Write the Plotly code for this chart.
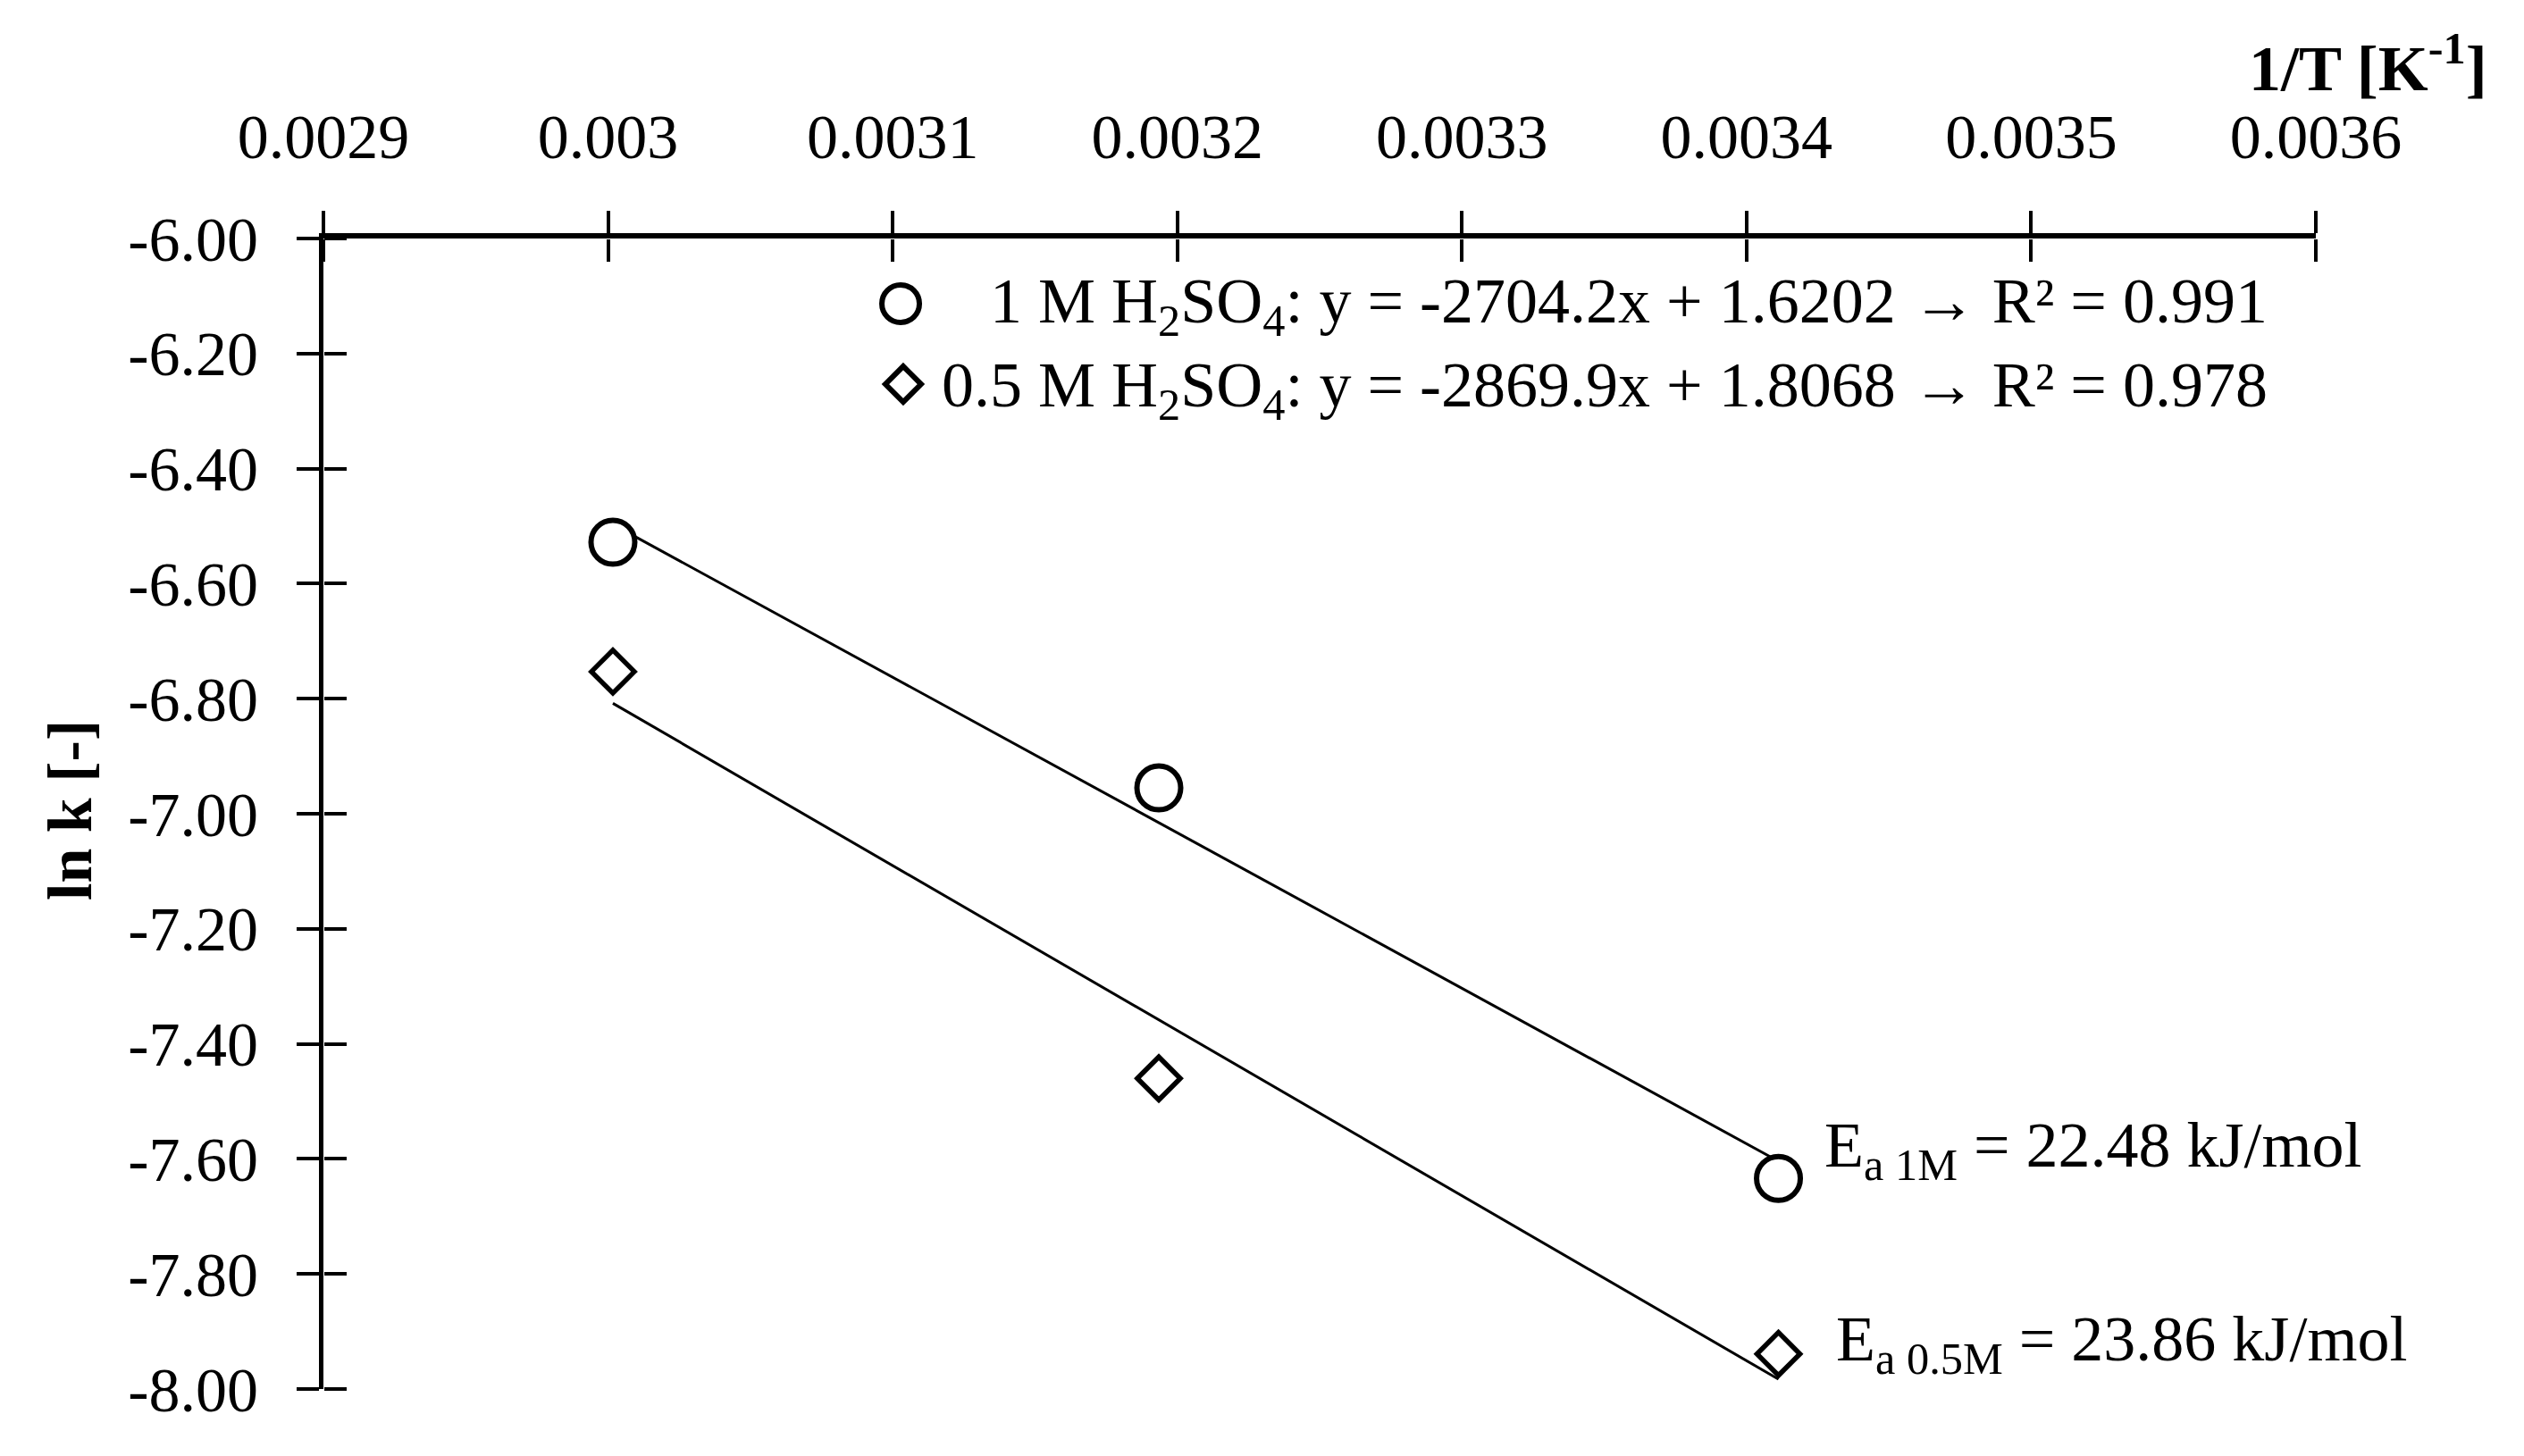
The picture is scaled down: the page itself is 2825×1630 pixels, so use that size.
import plotly.graph_objects as go

# 1/T values (K^-1) and ln k for both acid concentrations
inv_T = [0.0030017, 0.0031935, 0.0034112]
lnk_1M = [-6.528, -6.955, -7.634]
lnk_05M = [-6.753, -7.460, -7.939]

# linear fit lines, read at the first and last 1/T
trend_x = [0.0030017, 0.0034112]
trend_1M = [-6.497, -7.604]
trend_05M = [-6.808, -7.983]

x_ticks = [0.0029, 0.0030, 0.0031, 0.0032, 0.0033, 0.0034, 0.0035, 0.0036]
x_tick_labels = ['0.0029', '0.003', '0.0031', '0.0032', '0.0033', '0.0034', '0.0035', '0.0036']
y_ticks = [-6.0, -6.2, -6.4, -6.6, -6.8, -7.0, -7.2, -7.4, -7.6, -7.8, -8.0]
y_tick_labels = ['-6.00', '-6.20', '-6.40', '-6.60', '-6.80', '-7.00', '-7.20', '-7.40', '-7.60', '-7.80', '-8.00']

leg_1M = '1 M H<sub>2</sub>SO<sub>4</sub>: y = -2704.2x + 1.6202 \u2192 R\u00b2 = 0.991'
leg_05M = '0.5 M H<sub>2</sub>SO<sub>4</sub>: y = -2869.9x + 1.8068 \u2192 R\u00b2 = 0.978'
ea_1M = 'E<sub>a 1M</sub> = 22.48 kJ/mol'
ea_05M = 'E<sub>a 0.5M</sub> = 23.86 kJ/mol'

FONT = 'Liberation Serif'
FS = 70

fig = go.Figure()

fig.add_trace(go.Scatter(x=trend_x, y=trend_1M, mode='lines',
                         line=dict(color='black', width=3), showlegend=False))
fig.add_trace(go.Scatter(x=trend_x, y=trend_05M, mode='lines',
                         line=dict(color='black', width=3), showlegend=False))

# markers on the overlay axes so they sit above the fit lines
fig.add_trace(go.Scatter(x=inv_T, y=lnk_1M, mode='markers', xaxis='x2', yaxis='y2',
                         marker=dict(symbol='circle', size=49, color='white',
                                     line=dict(color='black', width=6)),
                         showlegend=False, cliponaxis=False))
fig.add_trace(go.Scatter(x=inv_T, y=lnk_05M, mode='markers', xaxis='x2', yaxis='y2',
                         marker=dict(symbol='diamond', size=37, color='white',
                                     line=dict(color='black', width=5.5)),
                         showlegend=False, cliponaxis=False))

ax_common = dict(showgrid=False, zeroline=False, color='black')

# page body adds an 8px margin, so the figure is 8px smaller than the window
# the second pair of axes sits on the same lines but faces the other way,
# so the ticks cross the axis lines like in the original
fig.update_layout(
    width=2817, height=1622,
    margin=dict(l=354, r=233, t=259, b=75),
    paper_bgcolor='white', plot_bgcolor='white',
    font=dict(family=FONT, size=FS, color='black'),
    showlegend=False,
    xaxis=dict(range=[0.0029, 0.0036], side='top', tickvals=x_ticks, ticktext=x_tick_labels,
               ticks='outside', ticklen=25, tickwidth=4, tickcolor='black',
               showline=True, linewidth=6, linecolor='black',
               tickfont=dict(family=FONT, size=FS), ticklabelstandoff=31, **ax_common),
    yaxis=dict(range=[-8, -6], tickvals=y_ticks, ticktext=y_tick_labels,
               ticks='outside', ticklen=25, tickwidth=4, tickcolor='black',
               showline=True, linewidth=5, linecolor='black',
               tickfont=dict(family=FONT, size=FS), ticklabelstandoff=29, **ax_common),
    xaxis2=dict(range=[0.0029, 0.0036], overlaying='x', side='bottom', anchor='free', position=1,
                tickvals=x_ticks, ticks='outside', ticklen=25, tickwidth=4, tickcolor='black',
                showticklabels=False, showline=False, **ax_common),
    yaxis2=dict(range=[-8, -6], overlaying='y', side='right', anchor='free', position=0,
                tickvals=y_ticks, ticks='outside', ticklen=25, tickwidth=4, tickcolor='black',
                showticklabels=False, showline=False, **ax_common),
)

annots = [
    dict(text='<b>1/T [K<sup>-1</sup>]</b>', x=1.087, y=1.152, xanchor='right', yanchor='middle', size=72),
    dict(text='<b>ln k [-]</b>', x=-0.1274, y=0.503, textangle=-90, xanchor='center', yanchor='middle', size=70),
    dict(text=leg_1M, x=0.9767, y=0.9418, xanchor='right', yanchor='middle', size=72),
    dict(text=leg_05M, x=0.9767, y=0.8688, xanchor='right', yanchor='middle', size=72),
    dict(text=ea_1M, x=0.7525, y=0.2081, xanchor='left', yanchor='middle', size=72),
    dict(text=ea_05M, x=0.7585, y=0.0398, xanchor='left', yanchor='middle', size=72),
]
for a in annots:
    size = a.pop('size')
    fig.add_annotation(xref='paper', yref='paper', showarrow=False,
                       font=dict(family=FONT, size=size, color='black'), **a)

# legend keys
fig.add_shape(type='circle', xref='paper', yref='paper', xsizemode='pixel', ysizemode='pixel',
              xanchor=0.2897, yanchor=0.9433, x0=-21, x1=21, y0=-21, y1=21,
              line=dict(color='black', width=6), fillcolor='white')
fig.add_shape(type='path', xref='paper', yref='paper', xsizemode='pixel', ysizemode='pixel',
              xanchor=0.2910, yanchor=0.8734, path='M -20 0 L 0 20 L 20 0 L 0 -20 Z',
              line=dict(color='black', width=6), fillcolor='white')

fig.write_html('out.html')
